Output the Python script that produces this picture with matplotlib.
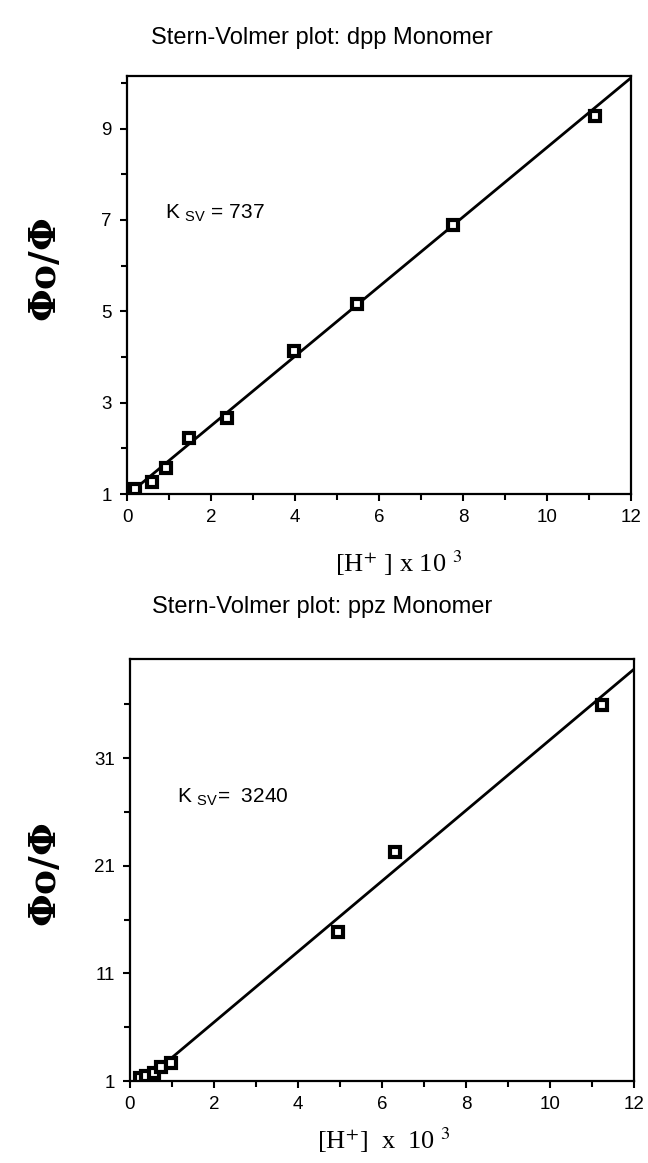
import matplotlib
matplotlib.use('Agg')
import matplotlib.pyplot as plt
from matplotlib.ticker import MultipleLocator, FixedLocator

plt.rcParams['font.family'] = ['Liberation Sans', 'DejaVu Sans']
plt.rcParams['mathtext.fontset'] = 'custom'
plt.rcParams['mathtext.rm'] = 'Liberation Sans'

# dpp monomer
h_dpp = [0.19, 0.59, 0.93, 1.48, 2.37, 3.98, 5.47, 7.77, 11.14]
phi_dpp = [1.11, 1.27, 1.57, 2.23, 2.66, 4.13, 5.17, 6.89, 9.27]
fit_dpp = (0.762, 0.97)      # slope, intercept
fit_dpp_x = [0.0, 12.0]

# ppz monomer
h_ppz = [0.24, 0.38, 0.56, 0.75, 0.98, 4.95, 6.31, 11.23]
phi_ppz = [1.3, 1.5, 1.7, 2.3, 2.7, 14.8, 22.3, 35.95]
fit_ppz = (3.28, -0.1)
fit_ppz_x = [0.3, 12.0]

fig = plt.figure(figsize=(6.48, 11.63), dpi=100)

panels = [
    dict(rect=[0.196, 0.5752, 0.778, 0.3594], x=h_dpp, y=phi_dpp, fit=fit_dpp, fx=fit_dpp_x,
         ylim=(1, 10.15), yticks=[1, 3, 5, 7, 9], yminor=[2, 4, 6, 8, 10],
         title='Stern-Volmer plot: dpp Monomer', title_y=1 - 38 / 1163,
         xlabel=r'[H$^{+}$ ] x 10 $^{3}$', xl_x=399 / 648, xl_y=1 - 563 / 1163,
         ks=r'K $_{\mathrm{SV}}$ = 737', ks_xy=(165 / 648, 1 - 213 / 1163),
         yl_y=1 - 270 / 1163),
    dict(rect=[0.2006, 0.0705, 0.778, 0.3629], x=h_ppz, y=phi_ppz, fit=fit_ppz, fx=fit_ppz_x,
         ylim=(1, 40.2), yticks=[1, 11, 21, 31], yminor=[6, 16, 26, 36],
         title='Stern-Volmer plot: ppz Monomer', title_y=1 - 607 / 1163,
         xlabel=r'[H$^{+}$]  x  10 $^{3}$', xl_x=384 / 648, xl_y=1 - 1140 / 1163,
         ks=r'K $_{\mathrm{SV}}$=  3240', ks_xy=(177 / 648, 1 - 797 / 1163),
         yl_y=1 - 875 / 1163),
]

for p in panels:
    ax = fig.add_axes(p['rect'])
    m, b = p['fit']
    ax.plot(p['fx'], [m * v + b for v in p['fx']], color='black', lw=2)
    ax.plot(p['x'], p['y'], ls='none', marker='s', ms=7, mfc='white', mec='black', mew=3)
    ax.set_xlim(0, 12)
    ax.set_ylim(*p['ylim'])
    ax.xaxis.set_major_locator(MultipleLocator(2))
    ax.xaxis.set_minor_locator(MultipleLocator(1))
    ax.yaxis.set_major_locator(FixedLocator(p['yticks']))
    ax.yaxis.set_minor_locator(FixedLocator(p['yminor']))
    ax.tick_params(which='both', direction='out', width=1.5)
    ax.tick_params(axis='both', which='major', labelsize=13.5)
    ax.tick_params(axis='y', pad=6)
    ax.tick_params(axis='x', pad=6)
    ax.tick_params(which='major', length=5)
    ax.tick_params(which='minor', length=4)
    for s in ax.spines.values():
        s.set_linewidth(1.6)
    fig.text(0.497, p['title_y'], p['title'], ha='center', va='center', fontsize=17)
    fig.text(p['xl_x'], p['xl_y'], p['xlabel'], ha='center', va='center', fontsize=19,
             family='Liberation Serif', math_fontfamily='stix')
    fig.text(46 / 648, p['yl_y'], r'$\mathbf{\Phi}$o/$\mathbf{\Phi}$', rotation=90, ha='center',
             va='center', fontsize=27, family='DejaVu Serif', weight='bold',
             math_fontfamily='dejavuserif')
    fig.text(p['ks_xy'][0], p['ks_xy'][1], p['ks'], ha='left', va='center', fontsize=15)

fig.savefig('out.png', dpi=100)
